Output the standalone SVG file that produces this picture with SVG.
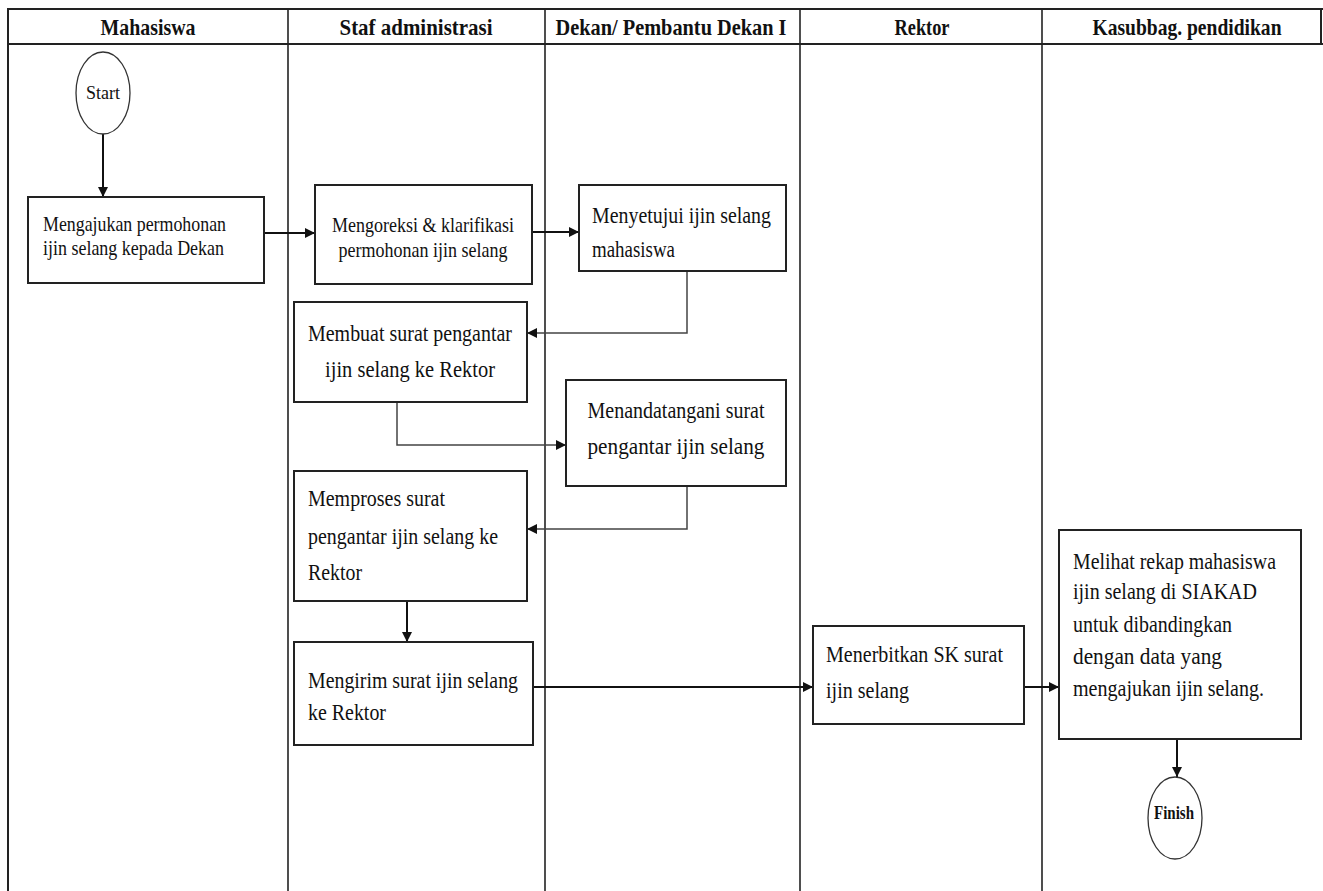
<svg xmlns="http://www.w3.org/2000/svg" width="1323" height="891" viewBox="0 0 1323 891">
<defs>
<style>
.frame{stroke:#222;stroke-width:2;fill:none}
.div{stroke:#222;stroke-width:1.6;fill:none}
.box{fill:#fff;stroke:#222;stroke-width:2}
.term{fill:#fff;stroke:#333;stroke-width:1.3}
.hd{font-family:"Liberation Serif","Times New Roman",Tinos,"DejaVu Serif",serif;font-size:23px;font-weight:bold;fill:#111;text-anchor:middle}
.t{font-family:"Liberation Serif","Times New Roman",Tinos,"DejaVu Serif",serif;font-size:23px;fill:#111}
.ts{font-family:"Liberation Serif","Times New Roman",Tinos,"DejaVu Serif",serif;font-size:21px;fill:#111}
.c{text-anchor:middle}
.tb{font-family:"Liberation Serif","Times New Roman",Tinos,"DejaVu Serif",serif;font-size:18px;fill:#111;text-anchor:middle}
.conn{stroke:#111;stroke-width:2;fill:none}
.conn2{stroke:#444;stroke-width:1.5;fill:none}
</style>
<marker id="ah" viewBox="0 0 10 10" refX="10" refY="5" markerWidth="10" markerHeight="10" markerUnits="userSpaceOnUse" orient="auto">
<path d="M0,0 L10,5 L0,10 Z" fill="#111"/>
</marker>
</defs>
<rect width="1323" height="891" fill="#fff"/>
<g id="lanes">
<line class="frame" x1="8" y1="9" x2="1323" y2="9"/>
<line class="frame" x1="8" y1="44" x2="1323" y2="44"/>
<line class="frame" x1="8" y1="8" x2="8" y2="891"/>
<line class="frame" x1="1321" y1="9" x2="1321" y2="44"/>
<line class="div" x1="288" y1="9" x2="288" y2="891"/>
<line class="div" x1="545" y1="9" x2="545" y2="891"/>
<line class="div" x1="800" y1="9" x2="800" y2="891"/>
<line class="div" x1="1042" y1="9" x2="1042" y2="891"/>
<text class="hd" x="148" y="35" textLength="95" lengthAdjust="spacingAndGlyphs">Mahasiswa</text>
<text class="hd" x="416" y="35" textLength="153" lengthAdjust="spacingAndGlyphs">Staf administrasi</text>
<text class="hd" x="671" y="35" textLength="231" lengthAdjust="spacingAndGlyphs">Dekan/ Pembantu Dekan I</text>
<text class="hd" x="922" y="35" textLength="55" lengthAdjust="spacingAndGlyphs">Rektor</text>
<text class="hd" x="1187" y="35" textLength="189" lengthAdjust="spacingAndGlyphs">Kasubbag. pendidikan</text>
</g>
<g id="connectors">
<line class="conn" x1="103" y1="134" x2="103" y2="197" marker-end="url(#ah)"/>
<line class="conn" x1="264" y1="233" x2="315" y2="233" marker-end="url(#ah)"/>
<line class="conn" x1="532" y1="232" x2="579" y2="232" marker-end="url(#ah)"/>
<polyline class="conn2" points="687,271 687,333 527,333" marker-end="url(#ah)"/>
<polyline class="conn2" points="397,402 397,445 566,445" marker-end="url(#ah)"/>
<polyline class="conn2" points="687,486 687,529 527,529" marker-end="url(#ah)"/>
<line class="conn" x1="407" y1="601" x2="407" y2="642" marker-end="url(#ah)"/>
<line class="conn" x1="533" y1="687" x2="813" y2="687" marker-end="url(#ah)"/>
<line class="conn" x1="1024" y1="687" x2="1059" y2="687" marker-end="url(#ah)"/>
<line class="conn" x1="1177" y1="739" x2="1177" y2="777" marker-end="url(#ah)"/>
</g>
<g id="start">
<ellipse class="term" cx="103" cy="93" rx="27" ry="41"/>
<text class="tb" x="103" y="99" textLength="34" lengthAdjust="spacingAndGlyphs">Start</text>
</g>
<g id="n1">
<rect class="box" x="28" y="197" width="236" height="86"/>
<text class="ts" x="43" y="231" textLength="183" lengthAdjust="spacingAndGlyphs">Mengajukan permohonan</text>
<text class="ts" x="43" y="255" textLength="181" lengthAdjust="spacingAndGlyphs">ijin selang kepada Dekan</text>
</g>
<g id="n2">
<rect class="box" x="315" y="185" width="217" height="99"/>
<text class="ts c" x="423" y="232" textLength="182" lengthAdjust="spacingAndGlyphs">Mengoreksi &amp; klarifikasi</text>
<text class="ts c" x="423" y="257" textLength="169" lengthAdjust="spacingAndGlyphs">permohonan ijin selang</text>
</g>
<g id="n3">
<rect class="box" x="579" y="185" width="207" height="86"/>
<text class="t" x="592" y="223" textLength="179" lengthAdjust="spacingAndGlyphs">Menyetujui ijin selang</text>
<text class="t" x="592" y="257" textLength="83" lengthAdjust="spacingAndGlyphs">mahasiswa</text>
</g>
<g id="n4">
<rect class="box" x="294" y="302" width="233" height="100"/>
<text class="t c" x="410" y="341" textLength="204" lengthAdjust="spacingAndGlyphs">Membuat surat pengantar</text>
<text class="t c" x="410" y="377" textLength="170" lengthAdjust="spacingAndGlyphs">ijin selang ke Rektor</text>
</g>
<g id="n5">
<rect class="box" x="566" y="380" width="220" height="106"/>
<text class="t c" x="676" y="418" textLength="177" lengthAdjust="spacingAndGlyphs">Menandatangani surat</text>
<text class="t c" x="676" y="454" textLength="177" lengthAdjust="spacingAndGlyphs">pengantar ijin selang</text>
</g>
<g id="n6">
<rect class="box" x="294" y="471" width="233" height="130"/>
<text class="t" x="308" y="506" textLength="137" lengthAdjust="spacingAndGlyphs">Memproses surat</text>
<text class="t" x="308" y="544" textLength="190" lengthAdjust="spacingAndGlyphs">pengantar ijin selang ke</text>
<text class="t" x="308" y="580" textLength="54" lengthAdjust="spacingAndGlyphs">Rektor</text>
</g>
<g id="n7">
<rect class="box" x="294" y="642" width="239" height="103"/>
<text class="t" x="308" y="688" textLength="210" lengthAdjust="spacingAndGlyphs">Mengirim surat ijin selang</text>
<text class="t" x="308" y="720" textLength="78" lengthAdjust="spacingAndGlyphs">ke Rektor</text>
</g>
<g id="n8">
<rect class="box" x="813" y="626" width="211" height="98"/>
<text class="t" x="826" y="662" textLength="177" lengthAdjust="spacingAndGlyphs">Menerbitkan SK surat</text>
<text class="t" x="826" y="698" textLength="83" lengthAdjust="spacingAndGlyphs">ijin selang</text>
</g>
<g id="n9">
<rect class="box" x="1059" y="530" width="242" height="209"/>
<text class="t" x="1073" y="569" textLength="203" lengthAdjust="spacingAndGlyphs">Melihat rekap mahasiswa</text>
<text class="t" x="1073" y="599" textLength="184" lengthAdjust="spacingAndGlyphs">ijin selang di SIAKAD</text>
<text class="t" x="1073" y="632" textLength="159" lengthAdjust="spacingAndGlyphs">untuk dibandingkan</text>
<text class="t" x="1073" y="664" textLength="149" lengthAdjust="spacingAndGlyphs">dengan data yang</text>
<text class="t" x="1073" y="696" textLength="191" lengthAdjust="spacingAndGlyphs">mengajukan ijin selang.</text>
</g>
<g id="finish">
<ellipse class="term" cx="1175" cy="818" rx="27" ry="41"/>
<text class="tb" x="1174" y="819" font-weight="bold" textLength="40" lengthAdjust="spacingAndGlyphs">Finish</text>
</g>
</svg>
